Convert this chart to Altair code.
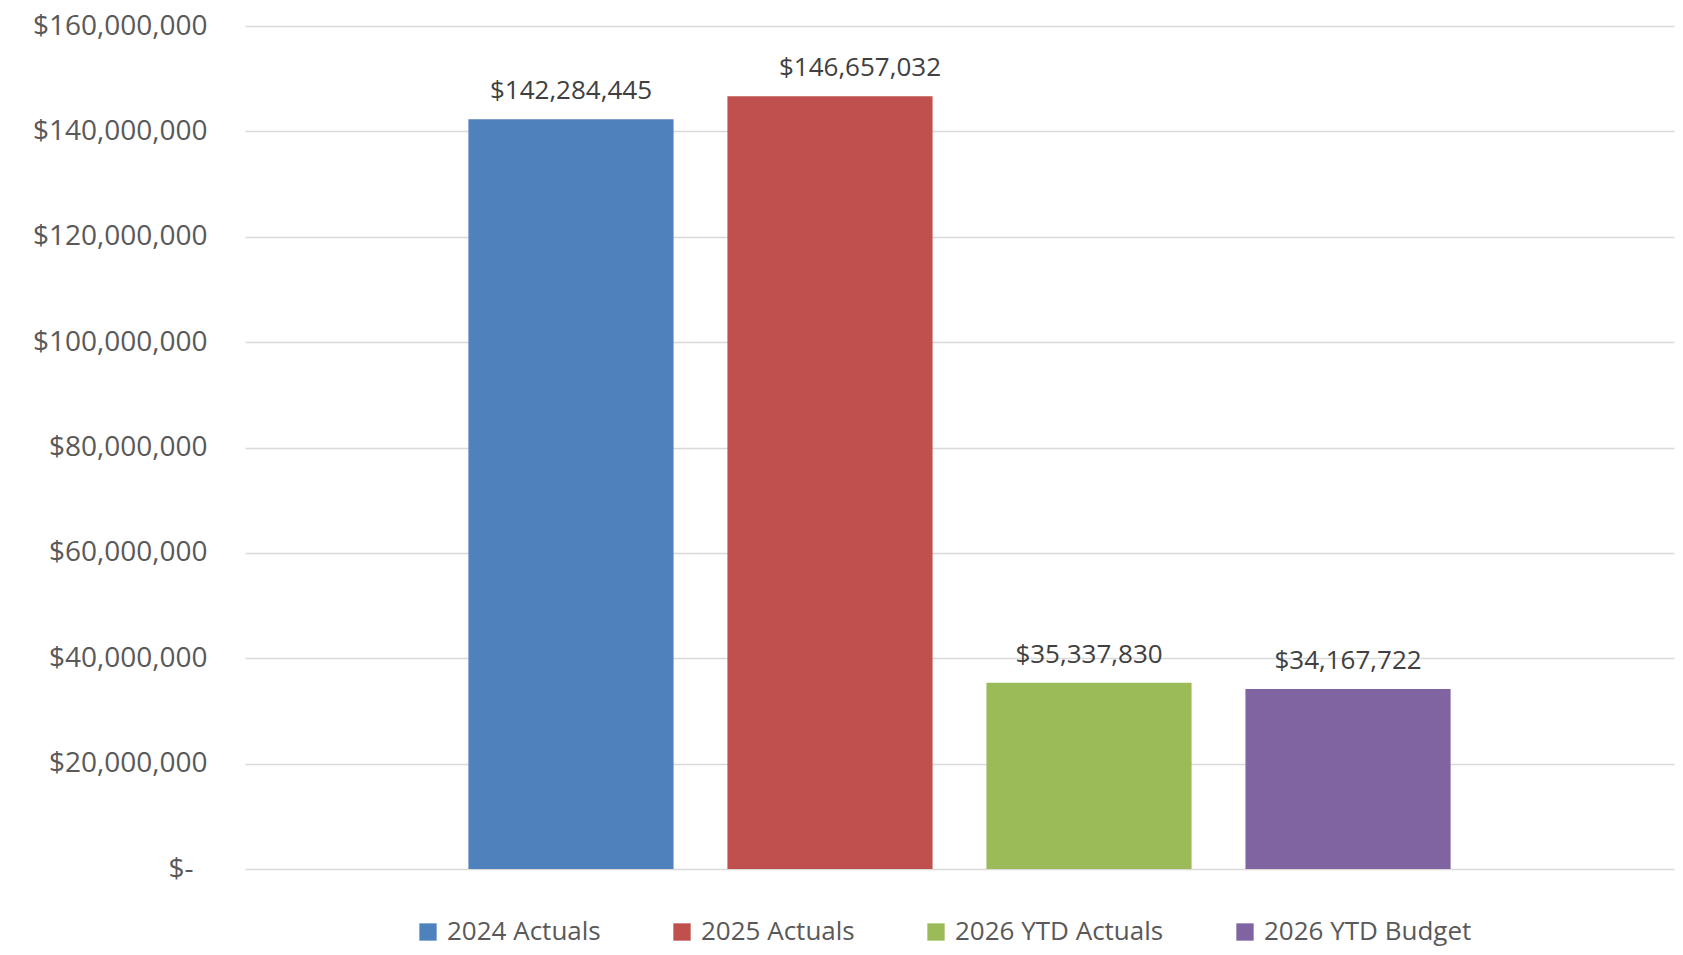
import altair as alt
import pandas as pd

series = ["2024 Actuals", "2025 Actuals", "2026 YTD Actuals", "2026 YTD Budget"]
values = [142284445, 146657032, 35337830, 34167722]
colors = ["#4F81BD", "#C0504D", "#9BBB59", "#8064A2"]
y_ticks = [0, 20000000, 40000000, 60000000, 80000000, 100000000, 120000000, 140000000, 160000000]

df = pd.DataFrame({"series": series, "value": values})
df["label"] = ["$" + f"{v:,}" for v in values]

FONT = "Open Sans"

x = alt.X("series:N", sort=series, axis=None,
          scale=alt.Scale(paddingInner=0.208, paddingOuter=0.8625))
y = alt.Y("value:Q",
          scale=alt.Scale(domain=[0, 160000000], nice=False),
          axis=alt.Axis(values=y_ticks, title=None, domain=False, ticks=False,
                        labelPadding={"condition": {"test": "datum.value === 0", "value": 52}, "value": 38},
                        labelFontSize=28, labelColor="#595959",
                        labelFont=FONT, gridColor="#D9D9D9", gridWidth=1.5,
                        labelExpr="datum.value == 0 ? '$-' : '$' + format(datum.value, ',')"))

bars = alt.Chart(df).mark_bar().encode(
    x=x, y=y,
    color=alt.Color("series:N", sort=series,
                    scale=alt.Scale(domain=series, range=colors),
                    legend=alt.Legend(title=None, orient="none", direction="horizontal",
                                      legendX=170, legendY=893,
                                      symbolType="square", symbolSize=300,
                                      symbolStrokeWidth=0, labelOffset=6,
                                      columnPadding=68, labelFontSize=26,
                                      labelLimit=0,
                                      labelFont=FONT, labelColor="#595959",
                                      symbolOpacity=1))
)

labels = alt.Chart(df).transform_filter(
    alt.datum.series != "2025 Actuals"
).mark_text(dy=-20, baseline="alphabetic", fontSize=26,
            font=FONT, color="#404040").encode(
    x=x, y=y, text="label:N"
)

label_moved = alt.Chart(df).transform_filter(
    alt.datum.series == "2025 Actuals"
).mark_text(dy=-20, dx=30, baseline="alphabetic", fontSize=26,
            font=FONT, color="#404040").encode(
    x=x, y=y, text="label:N"
)

chart = (bars + labels + label_moved).properties(
    width=1429, height=843,
    autosize=alt.AutoSizeParams(type="none"),
    padding={"left": 237, "top": 18, "right": 1, "bottom": 78},
    background="white",
).configure_view(stroke=None)

chart.save("out.html", embed_options={"renderer": "svg", "actions": False})
